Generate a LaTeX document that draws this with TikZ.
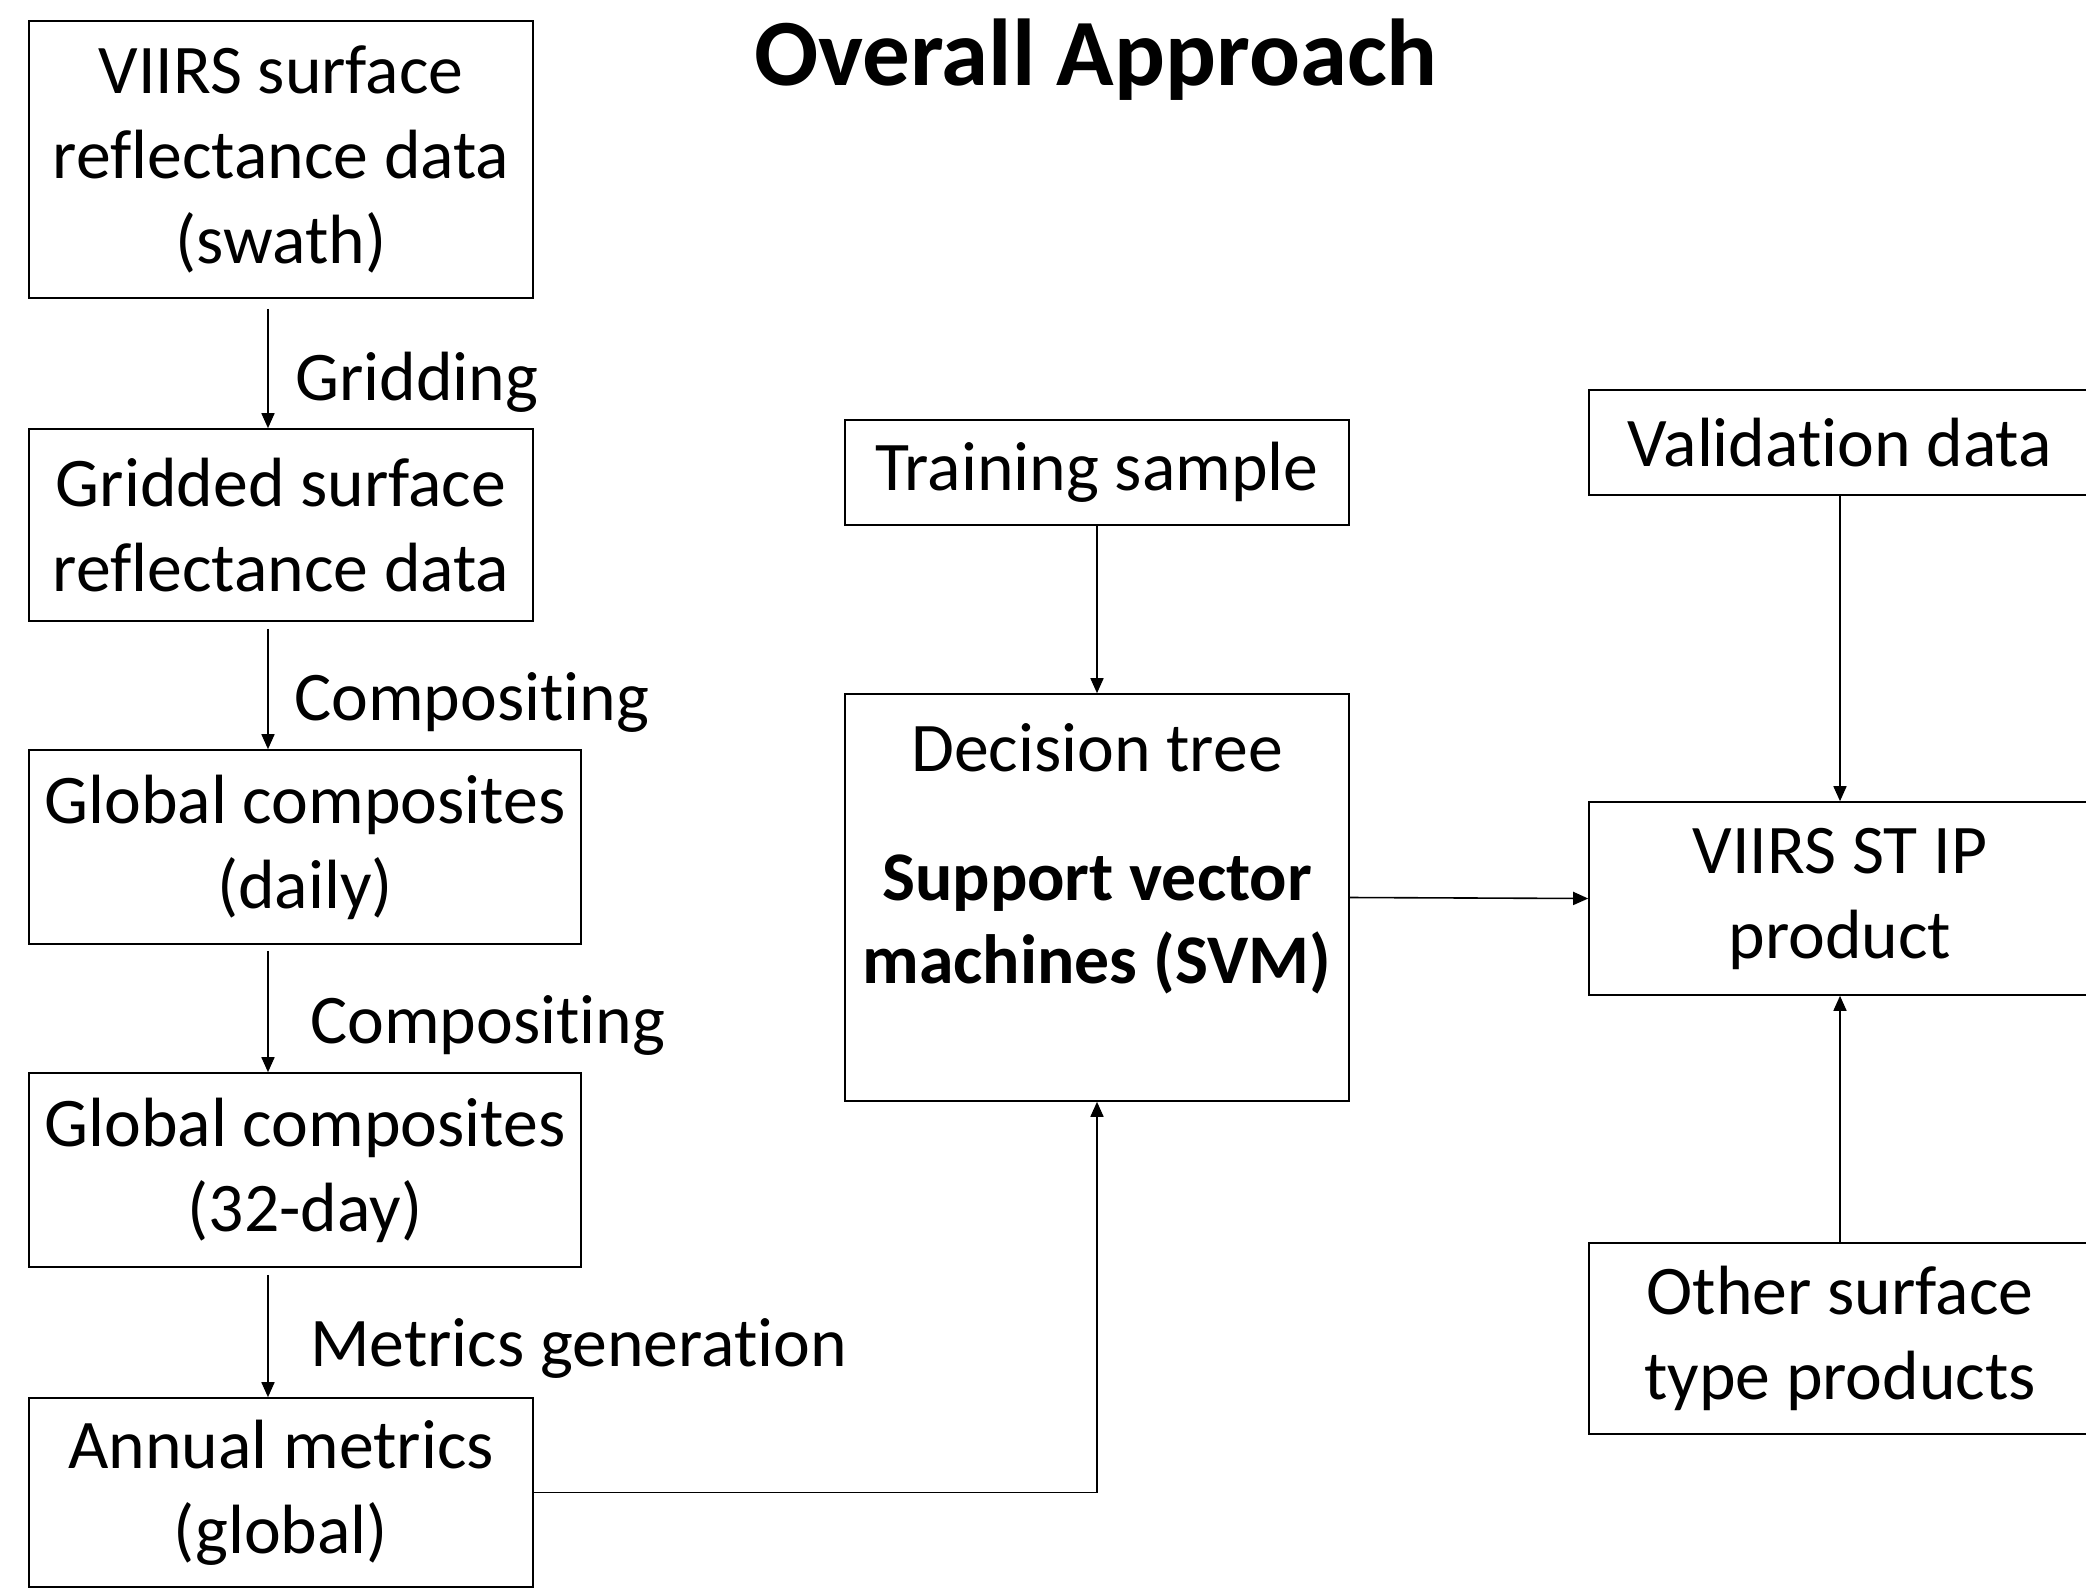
\documentclass[tikz,border=0pt]{standalone}
\usepackage{fontspec}
\setmainfont[Ligatures={NoCommon,NoRare,NoContextual},RawFeature={-liga;-clig;-dlig}]{Carlito}
\newcommand{\tI}{t\kern0pt i}
\usetikzlibrary{arrows.meta}
\begin{document}
\begin{tikzpicture}[x=1pt,y=-1pt,
  txt/.style={font=\fontsize{69.7}{85}\selectfont},
  box/.style={draw=black, line width=1.6pt, inner sep=0pt, align=center, txt},
  arr/.style={draw=black, line width=1.6pt, -{Triangle[length=15pt,width=13pt]}},
  lbl/.style={anchor=base west, inner sep=0pt, txt}]
\clip (0,0) rectangle (2086,1591);
\fill[white] (0,0) rectangle (2086,1591);

\node[anchor=base, inner sep=0pt, font=\bfseries\fontsize{95}{110}\selectfont] (title) at (1096,85) {Overall Approach};

% left column
\node[box, minimum width=504pt, minimum height=277pt] (swath) at (281,159.5) {VIIRS surface\\reflectance data\\(swath)};
\node[box, minimum width=504pt, minimum height=192pt] (grid) at (281,525) {Gridded surface\\reflectance data};
\node[box, minimum width=552pt, minimum height=194pt] (daily) at (305,847) {Global composites\\(daily)};
\node[box, minimum width=552pt, minimum height=194pt] (month) at (305,1170) {Global composites\\(32-day)};
\node[box, minimum width=504pt, minimum height=189pt] (annual) at (281,1492.5) {Annual metrics\\(global)};

% middle column
\node[box, minimum width=504pt, minimum height=105pt] (train) at (1097,472.5) {Training sample};
\node[box, minimum width=504pt, minimum height=407pt] (svm) at (1097,897.5) {};
\node[anchor=base, inner sep=0pt, txt] (svmA) at (1097,771) {Decision tree};
\node[anchor=base, inner sep=0pt, txt, font=\bfseries\fontsize{69.7}{85}\selectfont] (svmB) at (1097,900) {Support vector};
\node[anchor=base, inner sep=0pt, txt, font=\bfseries\fontsize{69.7}{85}\selectfont] (svmC) at (1097,983) {machines (SVM)};

% right column
\node[box, minimum width=502pt, minimum height=105pt] (valid) at (1840,442.5) {Valida\tI on data};
\node[box, minimum width=502pt, minimum height=193pt] (viirs) at (1840,898.5) {VIIRS ST IP\\product};
\node[box, minimum width=502pt, minimum height=191pt] (other) at (1840,1338.5) {Other surface\\type products};

% connectors
\coordinate (xcol) at (268,0);
\draw[arr] ([yshift=-10pt]swath.south -| xcol) -- (grid.north -| xcol);
\draw[arr] ([yshift=-7pt]grid.south -| xcol) -- (daily.north -| xcol);
\draw[arr] ([yshift=-6pt]daily.south -| xcol) -- (month.north -| xcol);
\draw[arr] ([yshift=-7pt]month.south -| xcol) -- (annual.north -| xcol);

\node[lbl] (l1) at (295,400) {Gridding};
\node[lbl] (l2) at (294,720) {Composi\tI ng};
\node[lbl] (l3) at (310,1043) {Composi\tI ng};
\node[lbl] (l4) at (310,1366) {Metrics genera\tI on};

\draw[arr] (train.south) -- (svm.north);
\draw[arr] (annual.east) -| (svm.south);
\draw[arr] (svm.east) -- (viirs.west);
\draw[arr] (valid.south) -- (viirs.north);
\draw[arr] (other.north) -- (viirs.south);
\end{tikzpicture}
\end{document}
